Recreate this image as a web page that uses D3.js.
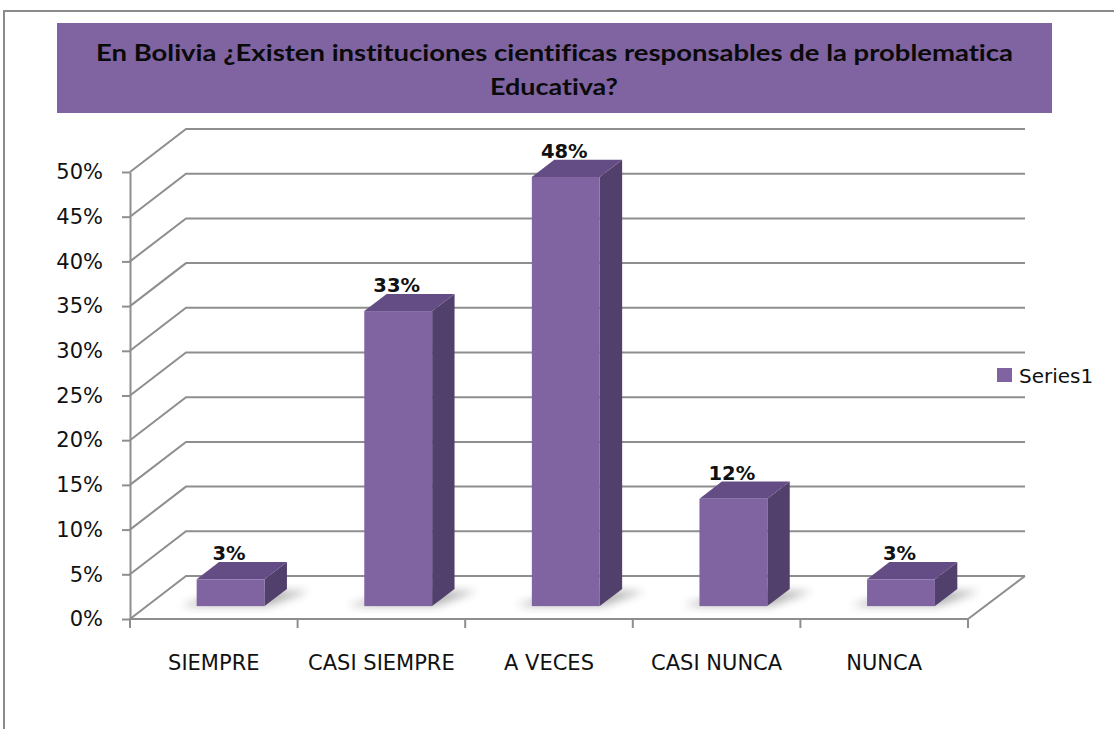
<!DOCTYPE html>
<html>
<head>
<meta charset="utf-8">
<script src="https://cdn.jsdelivr.net/npm/d3@7"></script>
<style>
  html, body { margin: 0; padding: 0; background: #ffffff; }
  svg { display: block; }
  text { font-variant-ligatures: none; font-feature-settings: "liga" 0; }
</style>
</head>
<body>
<svg id="chart" width="1114" height="729"></svg>
<script>
// ---- data ----
const titleLines = ["En Bolivia ¿Existen instituciones cientificas responsables de la problematica", "Educativa?"];
const categories = ["SIEMPRE", "CASI SIEMPRE", "A VECES", "CASI NUNCA", "NUNCA"];
const values = [0.03, 0.33, 0.48, 0.12, 0.03];
const valueLabels = ["3%", "33%", "48%", "12%", "3%"];
const yTicks = [0, 0.05, 0.10, 0.15, 0.20, 0.25, 0.30, 0.35, 0.40, 0.45, 0.50];
const seriesName = "Series1";

// ---- layout ----
const svg = d3.select("#chart");
const axisX = 130, floorRight = 968, backRight = 1025;
const DX = 56, DY = -43;           // depth offset of the 3D box
const f0 = 0.30, f1 = 0.70;        // bar front/back depth fractions
const gridColor = "#8e8e8e";
const barFront = "#8064A2", barTop = "#644d84", barSide = "#51406c";

const y = d3.scaleLinear().domain([0, 0.5]).range([619, 172]);
const x = d3.scaleBand().domain(categories).range([axisX, floorRight]).padding(0);
const barW = x.bandwidth() * 0.405;

// outer chart border
svg.append("rect").attr("x", 4).attr("y", 11).attr("width", 1200).attr("height", 800)
  .attr("fill", "#fff").attr("stroke", "#8a8a8a").attr("stroke-width", 2);

// title box
svg.append("rect").attr("x", 57).attr("y", 23).attr("width", 995).attr("height", 90)
  .attr("fill", "#8064A2");
const titleG = svg.append("g").attr("font-family", "Lato, 'Open Sans', sans-serif")
  .attr("font-weight", "bold").attr("font-size", 23).attr("fill", "#0a0a0a").attr("text-anchor", "middle");
titleG.append("text").attr("x", 554.5).attr("y", 61).text(titleLines[0])
  .attr("textLength", 917).attr("lengthAdjust", "spacingAndGlyphs");
titleG.append("text").attr("x", 554).attr("y", 95).text(titleLines[1])
  .attr("textLength", 128).attr("lengthAdjust", "spacingAndGlyphs");

// gridlines (left wall + back wall)
const grid = svg.append("g").attr("fill", "none").attr("stroke", gridColor).attr("stroke-width", 2);
yTicks.forEach(t => {
  const yy = y(t);
  grid.append("path").attr("d", `M${axisX},${yy} L${axisX + DX},${yy + DY} L${backRight},${yy + DY}`);
});
// floor outline
grid.append("path").attr("d", `M${axisX},${y(0)} L${floorRight},${y(0)} L${backRight},${y(0) + DY}`);

// x boundary ticks
const step = x.step();
d3.range(categories.length + 1).forEach(i => {
  const xx = axisX + i * step;
  grid.append("line").attr("x1", xx).attr("x2", xx).attr("y1", y(0)).attr("y2", y(0) + 9);
});

// y axis
const yAxis = d3.axisLeft(y).tickValues(yTicks).tickFormat(d3.format(".0%"))
  .tickSize(8).tickSizeOuter(0).tickPadding(19);
const yG = svg.append("g").attr("transform", `translate(${axisX},0)`).call(yAxis);
yG.select(".domain").attr("stroke", gridColor).attr("stroke-width", 2);
yG.selectAll(".tick line").attr("stroke", gridColor).attr("stroke-width", 2);
yG.selectAll(".tick text").attr("font-family", "'DejaVu Sans', sans-serif").attr("font-size", 21).attr("fill", "#111");

// x axis labels
const xAxis = d3.axisBottom(x).tickSize(0).tickPadding(36);
const xG = svg.append("g").attr("transform", `translate(0,${y(0)})`).call(xAxis);
xG.select(".domain").remove();
xG.selectAll(".tick text").attr("font-family", "'DejaVu Sans', sans-serif").attr("font-size", 21).attr("fill", "#111");

// shadow filter
const defs = svg.append("defs");
defs.append("filter").attr("id", "blur").attr("x", "-50%").attr("y", "-50%").attr("width", "200%").attr("height", "200%")
  .append("feGaussianBlur").attr("stdDeviation", 4);

// bars
const ox0 = DX * f0, oy0 = DY * f0, ox1 = DX * f1, oy1 = DY * f1;
const bars = svg.append("g");
categories.forEach((c, i) => {
  const cx = x(c) + x.bandwidth() / 2;
  const L = cx - barW / 2, R = cx + barW / 2;
  const B = y(0), T = y(values[i]);
  // shadow on floor
  bars.append("path")
    .attr("d", `M${L + ox0 - 16},${B + oy0} L${R + ox0 + 4},${B + oy0} L${R + ox1 + 22},${B + oy1 + 2} L${L + ox1 + 8},${B + oy1 + 2} Z`)
    .attr("fill", "#7a7a7a").attr("opacity", 0.55).attr("filter", "url(#blur)");
  // side face
  bars.append("path")
    .attr("d", `M${R + ox0},${T + oy0} L${R + ox1},${T + oy1} L${R + ox1},${B + oy1} L${R + ox0},${B + oy0} Z`)
    .attr("fill", barSide);
  // top face
  bars.append("path")
    .attr("d", `M${L + ox0},${T + oy0} L${R + ox0},${T + oy0} L${R + ox1},${T + oy1} L${L + ox1},${T + oy1} Z`)
    .attr("fill", barTop);
  // front face
  bars.append("rect").attr("x", L + ox0).attr("y", T + oy0).attr("width", barW).attr("height", B - T)
    .attr("fill", barFront);
  // data label
  bars.append("text").attr("x", cx + ox0 - 1.5).attr("y", T + oy1 - 2)
    .attr("text-anchor", "middle").attr("font-family", "'DejaVu Sans', sans-serif")
    .attr("font-weight", "bold").attr("font-size", 19.5).attr("fill", "#111").text(valueLabels[i]);
});

// legend
const lg = svg.append("g");
lg.append("rect").attr("x", 997).attr("y", 368).attr("width", 15).attr("height", 14).attr("fill", barFront);
lg.append("text").attr("x", 1019).attr("y", 383).attr("font-family", "'DejaVu Sans', sans-serif")
  .attr("font-size", 20).attr("fill", "#111").text(seriesName);
</script>
</body>
</html>
